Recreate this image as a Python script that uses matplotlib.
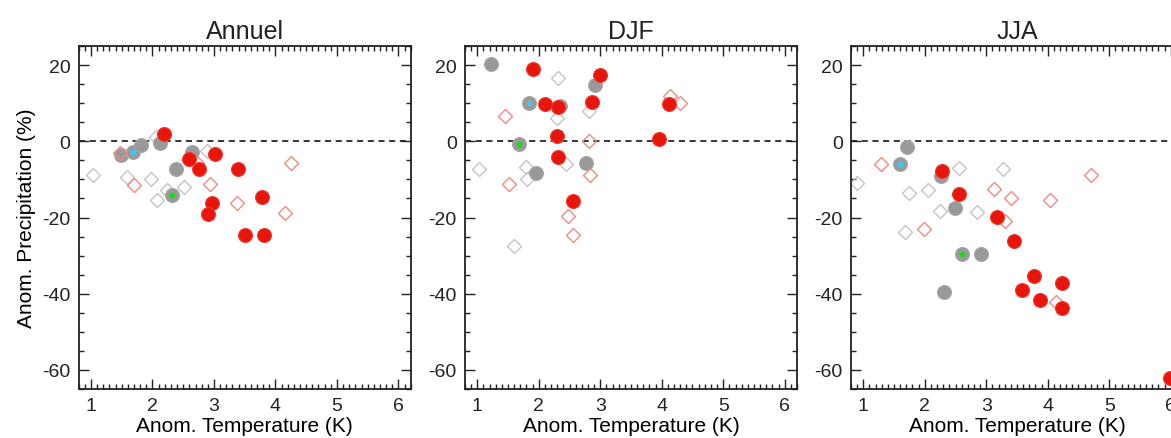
##################################
####        Chart Data        ####
##################################

import numpy as np
import matplotlib
matplotlib.use('Agg')
import matplotlib.pyplot as plt
from matplotlib.ticker import MultipleLocator

titles = ['Annuel', 'DJF', 'JJA']

# Annuel
ann_red_fill_x = [2.19, 3.02, 2.60, 2.76, 3.39, 3.78, 2.97, 2.90, 3.50, 3.81]
ann_red_fill_y = [2.0, -3.3, -4.7, -7.4, -7.2, -14.7, -16.3, -19.1, -24.7, -24.7]
ann_gray_fill_x = [1.48, 1.69, 1.82, 2.12, 2.65, 2.38, 2.31]
ann_gray_fill_y = [-3.7, -2.8, -1.1, -0.5, -2.7, -7.4, -14.0]
ann_gray_open_x = [1.04, 1.59, 1.98, 2.07, 2.24, 2.52, 2.89, 2.06]
ann_gray_open_y = [-8.9, -9.5, -9.8, -15.3, -12.8, -12.1, -2.6, 1.2]
ann_red_open_x = [1.47, 1.70, 2.94, 2.72, 3.37, 4.16, 4.26]
ann_red_open_y = [-3.2, -11.4, -11.1, -5.6, -16.2, -18.9, -5.6]
ann_cyan = [1.69, -2.8]
ann_green = [2.31, -14.0]

# DJF
djf_red_fill_x = [1.90, 3.00, 2.10, 2.31, 2.87, 4.12, 2.29, 3.96, 2.31, 2.55]
djf_red_fill_y = [18.9, 17.5, 9.8, 8.9, 10.2, 9.7, 1.3, 0.7, -4.0, -15.6]
djf_gray_fill_x = [1.23, 2.92, 1.84, 2.35, 1.68, 2.76, 1.96]
djf_gray_fill_y = [20.4, 14.7, 10.1, 9.2, -0.7, -5.6, -8.3]
djf_gray_open_x = [2.31, 2.82, 2.30, 1.02, 1.79, 1.81, 2.45, 1.60]
djf_gray_open_y = [16.7, 7.9, 6.0, -7.2, -6.7, -9.8, -6.0, -27.4]
djf_red_open_x = [1.45, 4.14, 4.29, 2.82, 2.83, 1.52, 2.47, 2.56]
djf_red_open_y = [6.6, 12.0, 10.1, 0.2, -8.8, -11.2, -19.6, -24.7]
djf_cyan = [1.84, 10.1]
djf_green = [1.68, -0.7]

# JJA
jja_red_fill_x = [2.28, 2.55, 3.18, 3.45, 3.78, 3.58, 4.24, 3.88, 4.23, 5.99]
jja_red_fill_y = [-7.9, -13.9, -19.8, -26.1, -35.3, -38.9, -37.1, -41.7, -43.7, -62.1]
jja_gray_fill_x = [1.71, 1.59, 2.27, 2.49, 2.61, 2.91, 2.31]
jja_gray_fill_y = [-1.6, -5.9, -9.0, -17.6, -29.6, -29.5, -39.6]
jja_gray_open_x = [0.90, 2.55, 3.27, 1.74, 2.05, 2.24, 2.85, 1.68]
jja_gray_open_y = [-11.0, -7.0, -7.2, -13.6, -12.8, -18.4, -18.5, -23.7]
jja_red_open_x = [1.28, 4.71, 3.13, 3.40, 4.04, 3.30, 1.98, 4.13]
jja_red_open_y = [-5.9, -8.8, -12.6, -15.0, -15.4, -20.9, -22.9, -42.3]
jja_cyan = [1.59, -5.9]
jja_green = [2.61, -29.6]

panels = [
    (ann_red_fill_x, ann_red_fill_y, ann_gray_fill_x, ann_gray_fill_y,
     ann_gray_open_x, ann_gray_open_y, ann_red_open_x, ann_red_open_y, ann_cyan, ann_green),
    (djf_red_fill_x, djf_red_fill_y, djf_gray_fill_x, djf_gray_fill_y,
     djf_gray_open_x, djf_gray_open_y, djf_red_open_x, djf_red_open_y, djf_cyan, djf_green),
    (jja_red_fill_x, jja_red_fill_y, jja_gray_fill_x, jja_gray_fill_y,
     jja_gray_open_x, jja_gray_open_y, jja_red_open_x, jja_red_open_y, jja_cyan, jja_green),
]

##################################
####          Plot            ####
##################################

plt.rcParams['font.family'] = ['Liberation Sans', 'DejaVu Sans']
plt.rcParams['text.color'] = '#222222'
plt.rcParams['axes.unicode_minus'] = False

fig = plt.figure(figsize=(11.71, 4.39), dpi=100)

W, H = 1171.0, 439.0
lefts = [78.7, 465.0, 851.0]
ax_w = 332.0
ax_bottom = 390.0
ax_h = 343.0

for i, (title, p) in enumerate(zip(titles, panels)):
    rfx, rfy, gfx, gfy, gox, goy, rox, roy, cyan, green = p
    ax = fig.add_axes([lefts[i] / W, (H - ax_bottom) / H, ax_w / W, ax_h / H])

    ax.axhline(0, color='black', lw=1.1, ls=(0, (4, 3)), zorder=1)

    ax.plot(gox, goy, 'D', ms=7.5, mfc='none', mec='#c4c4c4', mew=1.0, zorder=2)
    ax.plot(gfx, gfy, 'o', ms=10, mfc='#999999', mec='#a8a8a8', mew=0.8, zorder=3)
    ax.plot(rox, roy, 'D', ms=7.5, mfc='none', mec='#f28a84', mew=1.0, zorder=4)
    ax.plot(rfx, rfy, 'o', ms=10, mfc='#e8150b', mec='#ee3a30', mew=0.8, zorder=5)
    ax.plot(cyan[0], cyan[1], 'o', ms=4, mfc='#33ccff', mec='none', zorder=6)
    ax.plot(green[0], green[1], 'o', ms=4, mfc='#11dd11', mec='none', zorder=6)

    ax.set_xlim(0.8, 6.2)
    ax.set_ylim(-65, 25)
    ax.xaxis.set_major_locator(MultipleLocator(1))
    ax.xaxis.set_minor_locator(MultipleLocator(0.1))
    ax.yaxis.set_major_locator(MultipleLocator(20))
    ax.yaxis.set_minor_locator(MultipleLocator(5))
    ax.tick_params(which='both', direction='in', top=True, right=True,
                   labelsize=14, colors='#222222', width=1.0)
    ax.tick_params(which='major', length=7, pad=6)
    ax.tick_params(which='minor', length=3.5)
    for s in ax.spines.values():
        s.set_linewidth(1.3)
        s.set_color('#222222')

    ax.set_title(title, fontsize=18, pad=6)
    ax.set_xlabel('Anom. Temperature (K)', fontsize=15, labelpad=1)
    if i == 0:
        ax.set_ylabel('Anom. Precipitation (%)', fontsize=15, labelpad=4)

fig.savefig('out.png', dpi=100)
